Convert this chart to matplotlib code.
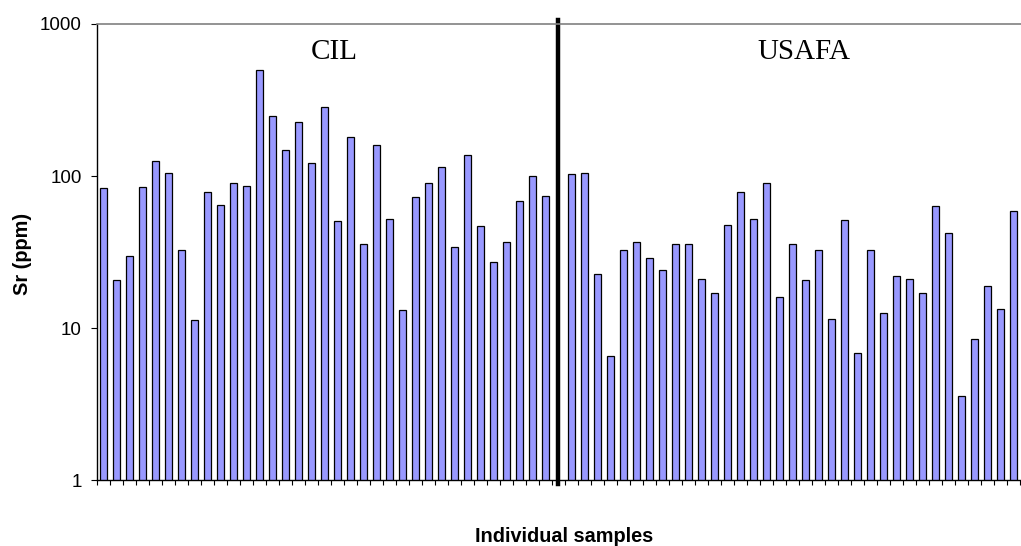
import numpy as np
import matplotlib
matplotlib.use('Agg')
import matplotlib.pyplot as plt
from matplotlib.ticker import FixedLocator, NullLocator, NullFormatter

# Sr concentrations (ppm)
cil = [83, 20.7, 29.8, 84.5, 125, 105, 32.6, 11.3, 79, 65, 90, 86,
       499, 249, 149, 228, 122, 283, 50.4, 181, 35.6, 159, 52.5, 13.1,
       72.6, 90, 114, 34, 137, 47, 27.4, 37, 68.3, 100, 74]
usafa = [103, 105, 22.6, 6.6, 32.6, 37, 28.8, 24.1, 35.6, 35.6, 21.1, 17.0,
         48, 79, 52.5, 90, 16, 35.6, 20.7, 32.6, 11.5, 51.4, 6.9, 32.6,
         12.5, 22.1, 21.1, 17.0, 64, 42.2, 3.6, 8.5, 19, 13.4, 58.7, 68]
groups = ['CIL', 'USAFA']
yticks = [1, 10, 100, 1000]

W, H = 1021, 546
fig = plt.figure(figsize=(W / 100, H / 100), dpi=100)
plt.rcParams['font.family'] = ['Liberation Sans', 'DejaVu Sans']

step = 13.0            # pixels per category
left_px, top_px, bot_px = 96.7, 24.0, 480.3
n_cat = len(cil) + 1 + len(usafa)
ax = fig.add_axes([left_px / W, (H - bot_px) / H, n_cat * step / W, (bot_px - top_px) / H])

x_cil = np.arange(1, len(cil) + 1)
gap = len(cil) + 1
x_usafa = np.arange(gap + 1, gap + 1 + len(usafa))

for xs, vals in [(x_cil, cil), (x_usafa, usafa)]:
    ax.bar(xs, vals, width=0.52, bottom=0, color='#9999FF', edgecolor='black', linewidth=0.9)

ax.set_yscale('log')
ax.set_ylim(1, 1000)
ax.set_xlim(0.5, n_cat + 0.5)

ax.yaxis.set_major_locator(FixedLocator(yticks))
ax.yaxis.set_minor_locator(NullLocator())
ax.set_yticklabels([str(v) for v in yticks])
ax.yaxis.set_minor_formatter(NullFormatter())
ax.tick_params(axis='y', direction='out', length=4.3, width=0.8, pad=6.5, labelsize=13.5)

ax.xaxis.set_major_locator(FixedLocator(np.arange(0.5, n_cat + 1.5)))
ax.set_xticklabels([])
ax.tick_params(axis='x', direction='out', length=3.8, width=0.8)

ax.spines['right'].set_visible(False)
ax.spines['top'].set_color('#808080')
ax.spines['top'].set_linewidth(1.2)
ax.spines['left'].set_linewidth(1.0)
ax.spines['bottom'].set_linewidth(1.0)

# divider between the two labs
ax.axvline(gap, ymin=-0.008, ymax=1.008, color='black', linewidth=3.2, clip_on=False)

ax.text(18.8, 0.938, groups[0], transform=ax.get_xaxis_transform(),
        ha='center', va='center', fontsize=21, family=['Liberation Serif'])
ax.text(54.9, 0.938, groups[1], transform=ax.get_xaxis_transform(),
        ha='center', va='center', fontsize=21, family=['Liberation Serif'])

fig.text(22 / W, 1 - 254 / H, 'Sr (ppm)', rotation=90, ha='center', va='center',
         fontsize=14.3, fontweight='bold')
fig.text(564 / W, 1 - 537 / H, 'Individual samples', ha='center', va='center',
         fontsize=14.3, fontweight='bold')

fig.savefig('out.png', dpi=100)
